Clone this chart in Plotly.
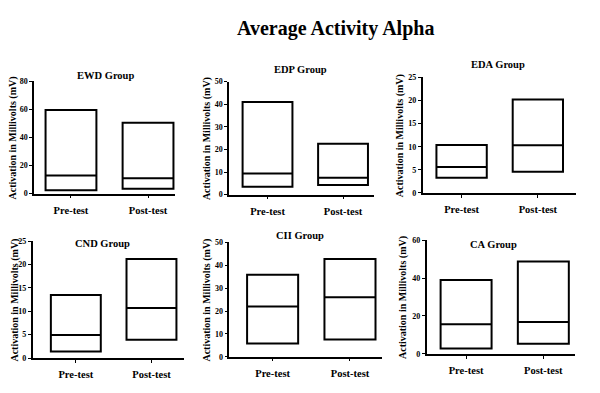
import plotly.graph_objects as go

# page body has an 8px default margin; figure is sized to fit the 600x393 window
OFF = 8
W, H = 600 - OFF, 393 - OFF

# ---- data ----
groups = ["EWD Group", "EDP Group", "EDA Group", "CND Group", "CII Group", "CA Group"]
phases = ["Pre-test", "Post-test"]
mins = [[2.5, 3.5], [3.5, 4.3], [3.3, 4.6], [1.4, 3.9], [5.8, 7.5], [2.8, 5.3]]
medians = [[13.0, 11.0], [9.4, 7.5], [5.6, 10.3], [4.9, 10.7], [22.0, 26.0], [15.6, 16.8]]
maxs = [[59.5, 50.5], [41.0, 22.5], [10.4, 20.2], [13.5, 21.2], [35.9, 42.8], [39.0, 48.8]]
y_max = [80, 50, 25, 25, 50, 60]
y_dtick = [20, 10, 5, 5, 10, 20]
y_title = "Activation in Millivolts (mV)"
main_title = "Average Activity Alpha"

# ---- layout geometry (window pixels) ----
# left, right, bottom(y=0), top(y=max)
boxes_px = [
    (34, 175, 194, 79),
    (229, 374, 195, 79.3),
    (422.7, 576, 193.3, 75),
    (32.7, 184, 362.3, 242.7),
    (229.3, 381.7, 361, 244),
    (426.7, 575, 358, 241.7),
]
x_ranges = [
    (-0.48, 1.35),
    (-0.51, 1.41),
    (-0.51, 1.50),
    (-0.57, 1.43),
    (-0.56, 1.41),
    (-0.51, 1.41),
]
title_pos = [(105, 73), (300, 67), (498, 62), (102, 245), (300, 237), (493, 246)]
ylabel_x = [13, 207, 400, 15, 207, 403]

FONT = "Liberation Serif, Times New Roman, serif"

def px(x):
    return (x - OFF) / W

def py(y):
    return 1 - (y - OFF) / H

fig = go.Figure()
annotations = []

for i in range(6):
    n = "" if i == 0 else str(i + 1)
    fig.add_trace(go.Box(
        x=[0, 1],
        q1=mins[i], median=medians[i], q3=maxs[i],
        lowerfence=mins[i], upperfence=maxs[i],
        width=0.66, whiskerwidth=0,
        fillcolor="white",
        line=dict(color="black", width=2),
        boxpoints=False,
        showlegend=False,
        xaxis="x" + n, yaxis="y" + n,
    ))
    l, r, b, t = boxes_px[i]
    fig.layout["xaxis" + n] = dict(
        domain=[px(l), px(r)], anchor="y" + n,
        range=list(x_ranges[i]),
        tickvals=[0, 1], ticktext=phases,
        showgrid=False, zeroline=False,
        showline=True, linecolor="black", linewidth=1.5,
        ticks="outside", ticklen=3, tickcolor="black", tickwidth=1,
        ticklabelstandoff=3,
        tickfont=dict(family=FONT, size=10.5, color="black", weight="bold"),
    )
    fig.layout["yaxis" + n] = dict(
        domain=[py(b), py(t)], anchor="x" + n,
        range=[0, y_max[i]], dtick=y_dtick[i], tick0=0,
        showgrid=False, zeroline=False,
        showline=True, linecolor="black", linewidth=1.5,
        ticks="outside", ticklen=3, tickcolor="black", tickwidth=1,
        ticklabelstandoff=0,
        tickfont=dict(family=FONT, size=8, color="black", weight="bold"),
    )
    tx, ty = title_pos[i]
    annotations.append(dict(
        text=groups[i], x=px(tx), y=py(ty), xref="paper", yref="paper",
        showarrow=False, xanchor="center", yanchor="middle",
        font=dict(family=FONT, size=10.5, color="black", weight="bold"),
    ))
    annotations.append(dict(
        text=y_title, x=px(ylabel_x[i]), y=py((b + t) / 2 + 1),
        xref="paper", yref="paper", textangle=-90,
        showarrow=False, xanchor="center", yanchor="middle",
        font=dict(family=FONT, size=10, color="black", weight="bold"),
    ))

annotations.append(dict(
    text=main_title, x=px(335), y=py(25), xref="paper", yref="paper",
    showarrow=False, xanchor="center", yanchor="middle",
    font=dict(family=FONT, size=20, color="black", weight="bold"),
))

fig.update_layout(
    width=W, height=H,
    margin=dict(l=0, r=0, t=0, b=0),
    paper_bgcolor="white", plot_bgcolor="white",
    annotations=annotations,
    showlegend=False,
)

fig.write_html("out.html")
